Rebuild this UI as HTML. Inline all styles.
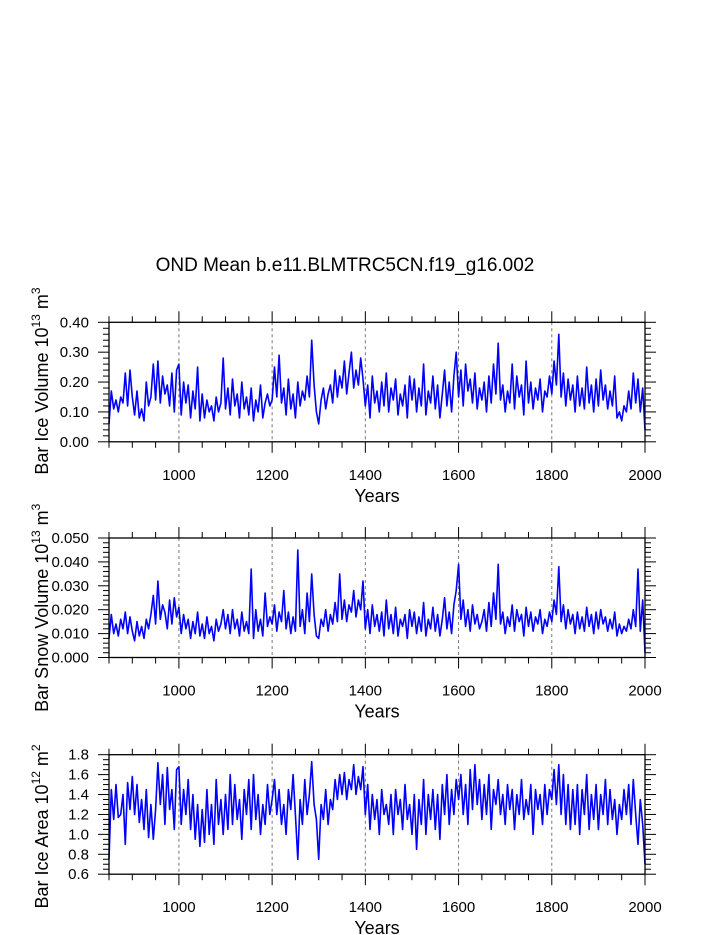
<!DOCTYPE html>
<html><head><meta charset="utf-8"><style>
body{margin:0;background:#fff}
svg{display:block;font-family:"Liberation Sans",Arial,sans-serif}
</style></head><body>
<svg id="chart" width="723" height="935" xmlns="http://www.w3.org/2000/svg">
<text x="345" y="271" font-size="19" text-anchor="middle">OND Mean b.e11.BLMTRC5CN.f19_g16.002</text>
</svg>
<script>
const startYear = 850, stepYears = 5;
const xTicks = [1000,1200,1400,1600,1800,2000];
const iceVolume = [
.06,.17,.11,.14,.10,.15,.13,.23,.12,.24,
.15,.09,.17,.08,.11,.07,.20,.12,.15,.26,
.14,.27,.13,.22,.16,.19,.12,.23,.10,.24,
.26,.09,.20,.13,.19,.08,.17,.11,.25,.07,
.16,.08,.14,.10,.12,.07,.15,.10,.13,.28,
.11,.18,.09,.21,.12,.16,.08,.20,.11,.15,
.09,.18,.07,.14,.10,.19,.08,.13,.16,.12,
.14,.25,.15,.29,.13,.18,.09,.21,.11,.16,
.08,.20,.12,.17,.14,.22,.15,.34,.19,.10,
.06,.14,.18,.11,.16,.19,.13,.24,.15,.22,
.18,.27,.16,.23,.30,.18,.24,.19,.28,.21,
.12,.19,.08,.22,.13,.17,.10,.20,.12,.23,
.10,.18,.14,.21,.09,.16,.12,.19,.08,.22,
.14,.21,.10,.18,.12,.26,.09,.17,.13,.22,
.11,.19,.08,.16,.24,.12,.20,.10,.22,.30,
.15,.24,.12,.26,.17,.21,.13,.23,.11,.18,
.14,.20,.10,.22,.13,.26,.16,.33,.14,.19,
.10,.17,.13,.26,.11,.22,.15,.19,.09,.27,
.13,.20,.11,.18,.14,.21,.10,.17,.15,.22,
.16,.27,.19,.36,.15,.23,.12,.21,.14,.19,
.10,.22,.12,.18,.11,.25,.13,.19,.10,.21,
.12,.24,.14,.19,.11,.17,.12,.22,.08,.10,
.07,.12,.10,.17,.11,.23,.13,.21,.10,.18,
.04];
const snowVolume = [
.008,.018,.010,.014,.009,.016,.012,.019,.010,.017,
.011,.007,.015,.009,.013,.008,.016,.012,.018,.026,
.014,.032,.016,.022,.019,.012,.024,.014,.025,.017,
.021,.010,.018,.012,.016,.008,.015,.010,.019,.009,
.014,.008,.017,.010,.013,.007,.016,.011,.014,.020,
.012,.018,.010,.020,.012,.016,.009,.019,.011,.015,
.010,.037,.008,.020,.011,.016,.009,.027,.013,.017,
.014,.022,.011,.019,.015,.028,.012,.019,.010,.017,
.011,.045,.013,.020,.010,.027,.015,.035,.018,.009,
.008,.016,.013,.020,.011,.018,.014,.023,.015,.035,
.016,.024,.015,.022,.019,.028,.017,.024,.020,.032,
.012,.020,.010,.022,.013,.018,.011,.019,.009,.024,
.012,.018,.010,.021,.009,.016,.013,.018,.008,.020,
.013,.019,.010,.017,.011,.023,.009,.016,.012,.021,
.011,.018,.009,.016,.025,.012,.019,.010,.022,.028,
.039,.016,.024,.013,.020,.011,.022,.014,.018,.012,
.015,.020,.011,.023,.013,.027,.016,.039,.014,.019,
.010,.017,.013,.022,.011,.020,.015,.018,.009,.021,
.013,.019,.011,.017,.014,.020,.010,.016,.013,.019,
.015,.024,.018,.038,.015,.022,.012,.020,.014,.018,
.010,.019,.012,.017,.011,.021,.013,.018,.010,.019,
.012,.020,.014,.017,.011,.016,.012,.019,.009,.014,
.010,.013,.011,.016,.012,.020,.013,.037,.011,.024,
.002];
const iceArea = [
.75,1.45,1.15,1.5,1.17,1.2,1.4,.9,1.52,1.25,
1.58,1.2,1.5,1.12,1.35,1.05,1.45,.97,1.3,.95,
1.25,1.72,1.3,1.6,1.1,1.67,1.25,1.45,1.05,1.65,
1.68,1.1,1.45,1.2,1.55,1.05,1.4,.95,1.3,.88,
1.25,.92,1.45,1.0,1.3,.9,1.55,1.1,1.35,1.0,
1.4,1.05,1.6,1.1,1.5,1.15,1.35,.95,1.45,1.2,
1.55,1.05,1.6,1.15,1.4,1.0,1.3,1.1,1.5,1.2,
1.35,1.55,1.2,1.45,1.1,1.3,1.0,1.45,1.25,1.6,
1.2,.75,1.35,1.1,1.55,1.2,1.4,1.73,1.3,1.15,
.75,1.3,1.15,1.45,1.1,1.35,1.25,1.55,1.35,1.6,
1.4,1.62,1.35,1.55,1.45,1.7,1.4,1.58,1.45,1.68,
1.2,1.5,1.05,1.4,1.15,1.35,1.0,1.45,1.2,1.3,
1.1,1.4,1.0,1.45,1.2,1.35,1.05,1.5,1.15,1.3,
1.0,1.4,.85,1.35,1.1,1.55,1.0,1.4,1.15,1.45,
1.05,1.4,.95,1.5,1.2,1.6,1.1,1.45,1.2,1.55,
1.35,1.6,1.2,1.5,1.1,1.65,1.25,1.7,1.3,1.55,
1.15,1.5,1.2,1.6,1.05,1.45,1.3,1.55,1.2,1.4,
1.1,1.5,1.25,1.45,1.05,1.4,1.2,1.55,1.15,1.35,
1.2,1.5,1.0,1.45,1.25,1.4,1.1,1.5,1.2,1.45,
1.35,1.65,1.3,1.7,1.2,1.6,1.1,1.5,1.05,1.45,
1.1,1.5,1.0,1.45,1.2,1.6,1.05,1.4,1.15,1.5,
1.05,1.4,1.2,1.55,1.1,1.45,1.15,1.35,1.0,1.3,
1.15,1.45,1.2,1.5,1.1,1.55,1.2,.9,1.35,1.1,
.7];
const iceVolTicks = [0,0.1,0.2,0.3,0.4];
const snowVolTicks = [0,0.01,0.02,0.03,0.04,0.05];
const areaTicks = [0.6,0.8,1.0,1.2,1.4,1.6,1.8];

const NS="http://www.w3.org/2000/svg", svg=document.getElementById('chart');
function mk(tag,attrs,parent){const e=document.createElementNS(NS,tag);for(const k in attrs)e.setAttribute(k,attrs[k]);(parent||svg).appendChild(e);return e;}
const X0=109,X1=645,xmin=850,xmax=2000;
const xs=y=>X0+(y-xmin)/(xmax-xmin)*(X1-X0);

function panel(name,top,vals,ticks,minorStep,dec,titleMain,sup,unitSup,shift){
  const bot=top+119.5, ymin=ticks[0], ymax=ticks[ticks.length-1];
  const ys=v=>bot-(v-ymin)/(ymax-ymin)*(bot-top);
  const g=mk('g',{});
  
  
  xTicks.forEach(t=>{const l=mk('line',{x1:xs(t),x2:xs(t),y1:top,y2:bot,stroke:'#777','stroke-dasharray':'3,3','stroke-width':1},g);
    
    });
  let d='';vals.forEach((v,i)=>{const yr=startYear+i*stepYears;d+=(i?'L':'M')+xs(yr).toFixed(1)+' '+ys(v).toFixed(1);});
  const p=mk('path',{d:d,fill:'none',stroke:'#0000ff','stroke-width':1.6,'stroke-linejoin':'round'},g);
  
  
  const f=mk('rect',{x:X0,y:top,width:X1-X0,height:bot-top,fill:'none',stroke:'#000','stroke-width':1.3},g);
  
  
  for(let yr=850;yr<=2000;yr+=50){const maj=yr%200===0&&yr>=1000;const L=maj?11:6;
    mk('line',{x1:xs(yr),x2:xs(yr),y1:bot,y2:bot+L,stroke:'#000'},g);
    mk('line',{x1:xs(yr),x2:xs(yr),y1:top,y2:top-L,stroke:'#000'},g);}
  xTicks.forEach(t=>{const tx=mk('text',{x:xs(t),y:bot+38,'font-size':15,'text-anchor':'middle'},g);tx.textContent=t;
    
    });
  const xt=mk('text',{x:377,y:bot+60,'font-size':18,'text-anchor':'middle'},g);xt.textContent='Years';
  
  
  for(let v=ymin;v<=ymax+1e-9;v+=minorStep){const isMaj=ticks.some(t=>Math.abs(t-v)<1e-9);const L=isMaj?11:6;const y=ys(v);
    mk('line',{x1:X0,x2:X0-L,y1:y,y2:y,stroke:'#000'},g);mk('line',{x1:X1,x2:X1+L,y1:y,y2:y,stroke:'#000'},g);}
  ticks.forEach(t=>{const tx=mk('text',{x:89,y:ys(t)+5,'font-size':15,'text-anchor':'end'},g);tx.textContent=t.toFixed(dec);
    
    });
  const cy=(top+bot)/2;
  const yt=mk('text',{x:0,y:0,'font-size':18,'text-anchor':'middle',transform:`translate(48,${cy+shift}) rotate(-90)`},g);
  
  
  yt.innerHTML=titleMain+'<tspan font-size="12" dy="-8">'+sup+'</tspan><tspan dy="8"> m</tspan><tspan font-size="12" dy="-8">'+unitSup+'</tspan>';
}
panel('ice-volume',322.3,iceVolume,iceVolTicks,0.02,2,'Bar Ice Volume 10','13','3',-1);
panel('snow-volume',538,snowVolume,snowVolTicks,0.002,3,'Bar Snow Volume 10','13','3',10);
panel('ice-area',754.7,iceArea,areaTicks,0.05,1,'Bar Ice Area 10','12','2',12);
</script>
</body></html>
